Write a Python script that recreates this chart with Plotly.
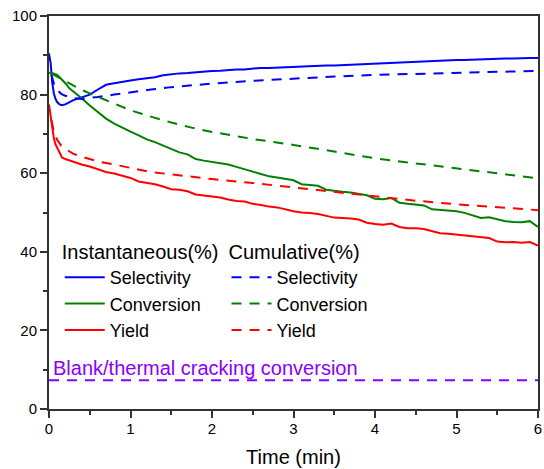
import plotly.graph_objects as go

# ---------------- data ----------------
t_inst = [0.0, 0.02, 0.04, 0.06, 0.08, 0.10, 0.13, 0.16, 0.20, 0.25, 0.30,
          0.4, 0.5, 0.6, 0.7, 0.8, 0.9, 1.0, 1.1, 1.2, 1.3, 1.4, 1.5, 1.6, 1.7, 1.8, 1.9,
          2.0, 2.1, 2.2, 2.3, 2.4, 2.5, 2.6, 2.7, 2.8, 2.9,
          3.0, 3.1, 3.2, 3.3, 3.4, 3.5, 3.6, 3.7, 3.8, 3.9,
          4.0, 4.1, 4.2, 4.3, 4.4, 4.5, 4.6, 4.7, 4.8, 4.9,
          5.0, 5.1, 5.2, 5.3, 5.4, 5.5, 5.6, 5.7, 5.8, 5.9, 6.0]

sel_inst = [90.5, 88.0, 83.0, 80.3, 78.9, 78.1, 77.5, 77.3, 77.5, 78.1, 78.6,
            79.3, 80.0, 81.3, 82.5, 82.9, 83.3, 83.6, 83.9, 84.2, 84.4, 84.9, 85.2, 85.4, 85.5, 85.7, 85.8,
            86.0, 86.1, 86.3, 86.4, 86.4, 86.6, 86.8, 86.8, 86.9, 87.0,
            87.0, 87.1, 87.2, 87.3, 87.4, 87.4, 87.5, 87.6, 87.7, 87.8,
            87.9, 88.0, 88.0, 88.2, 88.2, 88.3, 88.5, 88.5, 88.6, 88.7,
            88.8, 88.8, 88.9, 89.0, 89.0, 89.1, 89.2, 89.2, 89.3, 89.3, 89.3]

conv_inst = [85.6, 85.4, 85.5, 85.3, 85.2, 85.0, 84.4, 83.8, 82.9, 81.6, 80.8,
             79.1, 77.2, 75.6, 73.9, 72.6, 71.5, 70.6, 69.6, 68.6, 67.9, 67.0, 66.1, 65.3, 64.8, 63.6, 63.2,
             62.9, 62.6, 62.2, 61.6, 60.9, 60.4, 59.8, 59.2, 58.9, 58.6,
             58.2, 57.2, 57.0, 56.8, 55.8, 55.5, 55.3, 55.1, 54.8, 54.4,
             53.5, 53.4, 53.7, 52.5, 52.2, 52.0, 51.8, 50.8, 50.6, 50.5,
             50.3, 49.9, 49.3, 48.6, 48.8, 48.3, 47.8, 47.6, 47.5, 47.8, 46.3]

yield_inst = [77.5, 74.5, 72.5, 68.8, 67.3, 66.4, 65.0, 64.0, 63.6, 63.2, 62.9,
              62.2, 61.7, 61.0, 60.3, 59.9, 59.3, 58.8, 57.9, 57.6, 57.2, 56.6, 55.9, 55.8, 55.4, 54.6, 54.3,
              54.0, 53.8, 53.3, 52.9, 52.8, 52.2, 51.9, 51.5, 51.3, 50.8,
              50.3, 50.0, 49.9, 49.6, 49.2, 48.7, 48.6, 48.5, 48.2, 47.4,
              47.1, 46.9, 47.2, 46.3, 46.0, 46.0, 45.8, 45.2, 44.7, 44.6,
              44.4, 44.1, 43.9, 43.7, 43.5, 42.6, 42.4, 42.5, 42.3, 42.5, 41.6]

t_cum = [0.03, 0.06, 0.1, 0.15, 0.2, 0.3, 0.4, 0.5, 0.6, 0.8, 1.0, 1.25, 1.5, 1.75,
         2.0, 2.5, 3.0, 3.5, 4.0, 4.5, 5.0, 5.5, 6.0]
sel_cum = [85.0, 82.8, 81.2, 80.2, 79.7, 79.1, 78.9, 79.1, 79.4, 80.0, 80.6, 81.3, 81.9, 82.4,
           82.8, 83.5, 84.1, 84.6, 85.0, 85.3, 85.6, 85.8, 86.0]
conv_cum = [85.4, 85.1, 84.7, 84.0, 83.4, 82.2, 81.2, 80.3, 79.4, 77.6, 76.0, 74.4, 72.9, 71.6,
            70.5, 68.7, 67.2, 65.5, 63.8, 62.5, 61.2, 59.9, 58.7]
yield_cum = [73.5, 70.6, 68.5, 67.0, 66.2, 64.9, 64.2, 63.6, 63.0, 62.2, 61.3, 60.3, 59.7, 59.1,
             58.5, 57.5, 56.4, 55.2, 54.1, 53.0, 52.1, 51.3, 50.6]

t_blank = [0, 6]
blank_conv = [7.3, 7.3]
blank_label = "Blank/thermal cracking conversion"

x_ticks = [0, 1, 2, 3, 4, 5, 6]
y_ticks = [0, 20, 40, 60, 80, 100]

# ---------------- styles ----------------
BLUE, GREEN, RED, PURPLE = "#0000FF", "#008000", "#FF0000", "#8800FF"
FONT = "Liberation Sans, Arial, sans-serif"
DASH = "10px,8px"
AX = "#333333"

fig = go.Figure()
for name, y, c in [("Selectivity", sel_inst, BLUE), ("Conversion", conv_inst, GREEN), ("Yield", yield_inst, RED)]:
    fig.add_trace(go.Scatter(x=t_inst, y=y, mode="lines", name=name,
                             line=dict(color=c, width=2), legend="legend"))
for name, y, c in [("Selectivity", sel_cum, BLUE), ("Conversion", conv_cum, GREEN), ("Yield", yield_cum, RED)]:
    fig.add_trace(go.Scatter(x=t_cum, y=y, mode="lines", name=name,
                             line=dict(color=c, width=2, dash=DASH), legend="legend2"))
fig.add_trace(go.Scatter(x=t_blank, y=blank_conv, mode="lines", showlegend=False,
                         line=dict(color=PURPLE, width=2, dash=DASH)))

fig.add_annotation(x=0, y=blank_conv[0], xref="x", yref="y", text=blank_label,
                   showarrow=False, xanchor="left", yanchor="bottom", xshift=2, yshift=-1,
                   font=dict(family=FONT, size=20, color=PURPLE))

axis_common = dict(showline=True, linewidth=2, linecolor=AX, mirror=True, automargin=False,
                   showgrid=False, zeroline=False, ticks="outside", ticklen=7, tickwidth=1.5,
                   tickcolor=AX, ticklabeloverflow="allow",
                   tickfont=dict(family=FONT, size=15, color="black"))

fig.update_xaxes(range=[0, 6], tickvals=x_ticks, ticklabelstandoff=-2,
                 title=dict(text="Time (min)", font=dict(family=FONT, size=20, color="black"), standoff=14),
                 minor=dict(dtick=0.5, ticks="outside", ticklen=4, tickwidth=1.5, tickcolor=AX),
                 **axis_common)
fig.update_yaxes(range=[0, 100], tickvals=y_ticks,
                 minor=dict(dtick=10, ticks="outside", ticklen=4, tickwidth=1.5, tickcolor=AX),
                 **axis_common)

leg_common = dict(font=dict(family=FONT, size=18, color="black"), bgcolor="rgba(0,0,0,0)",
                  borderwidth=0, yanchor="top", xanchor="left", tracegroupgap=0, itemwidth=40)
fig.update_layout(
    width=544, height=469,
    margin=dict(l=49, r=6, t=16, b=60),
    paper_bgcolor="white", plot_bgcolor="white",
    font=dict(family=FONT, size=15, color="black"),
    legend=dict(x=0.022, y=0.448, title=dict(text="Instantaneous(%)", font=dict(family=FONT, size=20)), **leg_common),
    legend2=dict(x=0.363, y=0.448, title=dict(text="Cumulative(%)", font=dict(family=FONT, size=20)), **leg_common),
)

fig.write_html("out.html", config={"displayModeBar": False},
               post_script="document.body.style.margin='0';document.body.style.overflow='hidden';")
